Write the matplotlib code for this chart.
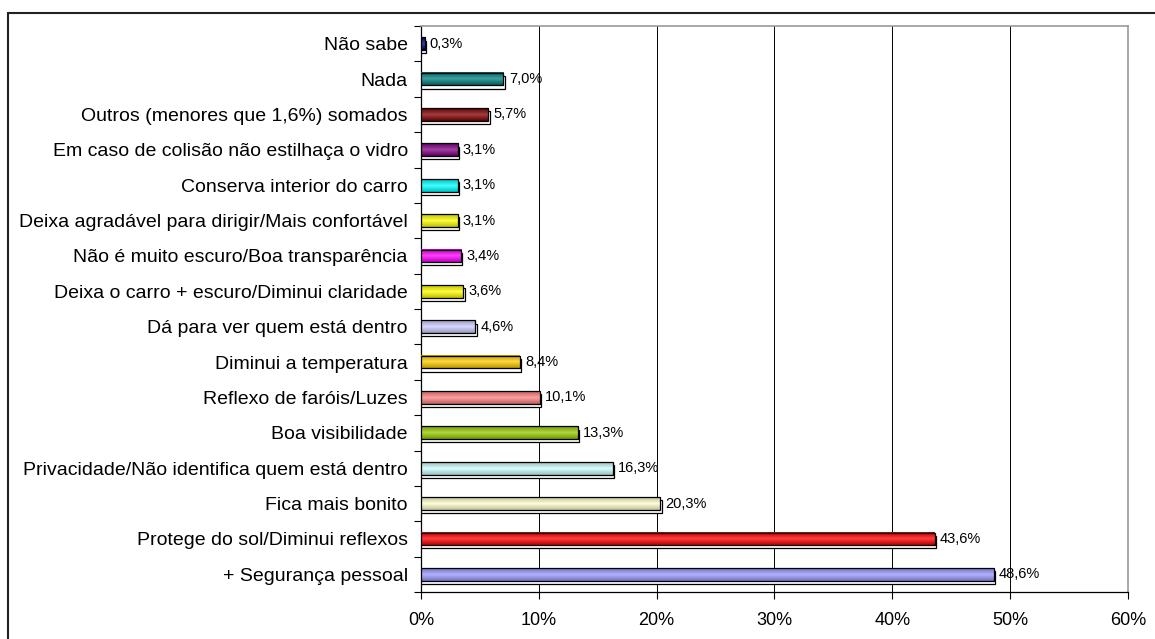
import matplotlib
matplotlib.use("Agg")
import matplotlib.pyplot as plt
import numpy as np
from matplotlib.patches import Rectangle
from matplotlib.colors import to_rgb

plt.rcParams['font.family'] = ['Liberation Sans', 'DejaVu Sans']

categories = [
    "Não sabe",
    "Nada",
    "Outros (menores que 1,6%) somados",
    "Em caso de colisão não estilhaça o vidro",
    "Conserva interior do carro",
    "Deixa agradável para dirigir/Mais confortável",
    "Não é muito escuro/Boa transparência",
    "Deixa o carro + escuro/Diminui claridade",
    "Dá para ver quem está dentro",
    "Diminui a temperatura",
    "Reflexo de faróis/Luzes",
    "Boa visibilidade",
    "Privacidade/Não identifica quem está dentro",
    "Fica mais bonito",
    "Protege do sol/Diminui reflexos",
    "+ Segurança pessoal",
]
values = [0.3, 7.0, 5.7, 3.1, 3.1, 3.1, 3.4, 3.6, 4.6, 8.4, 10.1, 13.3, 16.3, 20.3, 43.6, 48.6]
labels = ["0,3%", "7,0%", "5,7%", "3,1%", "3,1%", "3,1%", "3,4%", "3,6%", "4,6%",
          "8,4%", "10,1%", "13,3%", "16,3%", "20,3%", "43,6%", "48,6%"]
colors = ["#000080", "#008080", "#800000", "#800080", "#00FFFF", "#FFFF00", "#FF00FF",
          "#FFFF00", "#CCCCFF", "#FFCC00", "#FF8080", "#99CC00", "#CCFFFF", "#FFFFCC",
          "#FF0000", "#9999FF"]
xticks = [0, 10, 20, 30, 40, 50, 60]
xticklabels = ["0%", "10%", "20%", "30%", "40%", "50%", "60%"]

W, H = 1155, 639
fig = plt.figure(figsize=(W / 100, H / 100), dpi=100)
ax = fig.add_axes([421 / W, 1 - 592 / H, (1128 - 421) / W, (592 - 26) / H])

n = len(categories)
ypos = np.arange(n)[::-1]  # first category at top
bh = 0.36
dy = 0.09
dx = 0.12

for y, v, c in zip(ypos, values, colors):
    # back (3D bottom face)
    ax.add_patch(Rectangle((0, y - bh / 2 - dy), v + dx, bh, facecolor="white",
                           edgecolor="black", linewidth=0.9, zorder=3))
    # gradient front face
    base = np.array(to_rgb(c))
    dark = base * 0.75
    light = base + (1 - base) * 0.25
    t = np.linspace(0, 1, 20)
    prof = 1 - np.abs(2 * t - 1)
    img = dark[None, :] * (1 - prof[:, None]) + light[None, :] * prof[:, None]
    img = img[:, None, :]
    ax.imshow(img, extent=[0, v, y - bh / 2, y + bh / 2], aspect="auto",
              origin="lower", zorder=4, interpolation="bilinear")
    ax.add_patch(Rectangle((0, y - bh / 2), v, bh, facecolor="none",
                           edgecolor="black", linewidth=0.9, zorder=5))

for y, v, lab in zip(ypos, values, labels):
    ax.text(v + 0.45, y, lab, va="center", ha="left", fontsize=10.5, zorder=6)

ax.set_xlim(0, 60)
ax.set_ylim(-0.5, n - 0.5)
ax.set_xticks(xticks)
ax.set_xticklabels(xticklabels, fontsize=13)
ax.set_yticks(ypos)
ax.set_yticklabels(categories, fontsize=14)
ax.tick_params(axis="y", which="major", length=0, pad=9.5)
ax.set_yticks(np.arange(-0.5, n, 1.0), minor=True)
ax.tick_params(axis="y", which="minor", length=5, width=0.8, direction="out")
ax.tick_params(axis="x", length=5, width=0.8, direction="out", pad=9.5)

ax.xaxis.grid(True, color="black", linewidth=0.7, zorder=0)
ax.set_axisbelow(True)
for s in ["top", "right"]:
    ax.spines[s].set_color("#999999")
    ax.spines[s].set_linewidth(1.2)
for s in ["left", "bottom"]:
    ax.spines[s].set_color("black")
    ax.spines[s].set_linewidth(0.9)

# outer chart frame
fig.add_artist(Rectangle((8 / W, -0.1), 1.5, 1.1 - 13 / H, transform=fig.transFigure,
                         facecolor="none", edgecolor="#222222", linewidth=1.5))

fig.savefig("out.png", dpi=100)
